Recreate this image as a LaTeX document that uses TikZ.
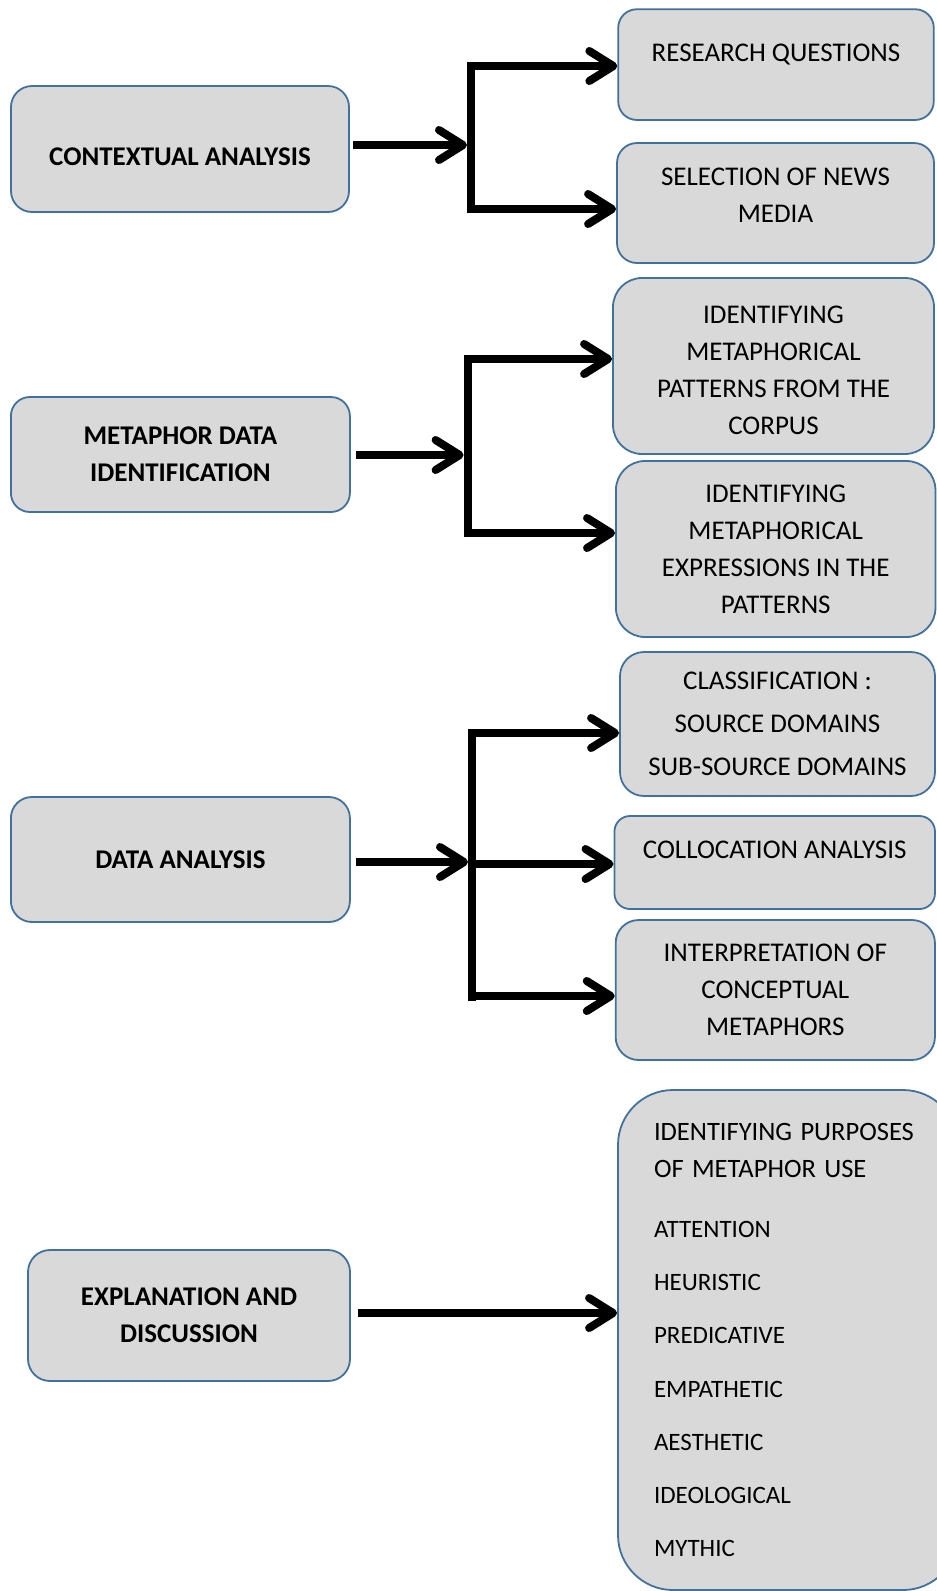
\documentclass[tikz,border=0pt]{standalone}
\usepackage{fontspec}
\setmainfont{Carlito}
\usetikzlibrary{arrows.meta,calc}
\definecolor{boxfill}{HTML}{D9D9D9}
\definecolor{boxline}{HTML}{41719C}
\tikzset{
  box/.style={draw=boxline, fill=boxfill, line width=1.8pt, align=center, inner sep=0pt,
    font=\fontsize{27}{37}\selectfont},
  leftbox/.style={box, font=\bfseries\fontsize{27}{37}\selectfont},
  conn/.style={line width=8pt, -{Straight Barb[length=24pt,width=30pt,round]}},
  barline/.style={line width=8pt},
}
\begin{document}
\begin{tikzpicture}[x=1pt,y=-1pt]
\useasboundingbox (0,0) rectangle (937,1591);
\clip (0,0) rectangle (937,1591);

% left boxes
\node[leftbox, minimum width=338pt, minimum height=126pt, rounded corners=21pt,
  text height=37.2pt, text depth=4pt] (ctx) at (180,149) {CONTEXTUAL ANALYSIS};
\node[leftbox, minimum width=339pt, minimum height=115pt, rounded corners=19pt]
  (meta) at (180.4,454.5) {METAPHOR DATA\\IDENTIFICATION};
\node[leftbox, minimum width=339pt, minimum height=125pt, rounded corners=21pt]
  (data) at (180.4,859.5) {DATA ANALYSIS};
\node[leftbox, minimum width=322pt, minimum height=131pt, rounded corners=22pt]
  (expl) at (189,1315.5) {EXPLANATION AND\\DISCUSSION};

% right boxes
\node[box, minimum width=315.5pt, minimum height=110.7pt, rounded corners=18.5pt,
  text height=10pt, text depth=17.2pt] (rq) at (776,64.6) {RESEARCH QUESTIONS};
\node[box, minimum width=317pt, minimum height=120pt, rounded corners=20pt]
  (sel) at (775.5,203) {SELECTION OF NEWS\\MEDIA\\[-21pt]\mbox{}};
\node[box, minimum width=321pt, minimum height=176pt, rounded corners=29pt]
  (pat) at (773.5,366) {\mbox{}\\[-10pt]IDENTIFYING\\METAPHORICAL\\PATTERNS FROM THE\\CORPUS};
\node[box, minimum width=319.5pt, minimum height=176pt, rounded corners=29pt]
  (exq) at (775.7,549) {IDENTIFYING\\METAPHORICAL\\EXPRESSIONS IN THE\\PATTERNS};
\node[box, minimum width=315pt, minimum height=144pt, rounded corners=24pt]
  (cls) at (777.5,724) {CLASSIFICATION :\\[6pt]SOURCE DOMAINS\\[6pt]SUB-SOURCE DOMAINS};
\node[box, minimum width=320.5pt, minimum height=93pt, rounded corners=15.5pt,
  text height=10pt, text depth=18.2pt] (col) at (774.7,862.5) {COLLOCATION ANALYSIS};
\node[box, minimum width=319.3pt, minimum height=140pt, rounded corners=23pt]
  (int) at (775.3,990) {INTERPRETATION OF\\CONCEPTUAL\\METAPHORS};
\node[box, minimum width=340pt, minimum height=500pt, rounded corners=55pt,
  text width=268pt, align=left, font=\fontsize{25}{37}\selectfont]
  (pur) at (788,1340) {{\fontsize{26.5}{37}\selectfont IDENTIFYING PURPOSES}\\
  {\fontsize{26.5}{37}\selectfont OF METAPHOR USE}\\[23pt]
  ATTENTION\\[16.3pt]
  HEURISTIC\\[16.3pt]
  PREDICATIVE\\[16.3pt]
  EMPATHETIC\\[16.3pt]
  AESTHETIC\\[16.3pt]
  IDEOLOGICAL\\[16.3pt]
  MYTHIC};

% group 1
\coordinate (t1) at (471,62);
\coordinate (u1) at (471,213);
\coordinate (j1) at (467,145);
\coordinate (s1) at (353,145);
\coordinate (r1) at (467,66);
\coordinate (r2) at (467,209);
\draw[barline] (t1) -- (u1);
\draw[conn] (s1) -- (j1);
\draw[conn] (r1) -- (r1 -| rq.west);
\draw[conn] (r2) -- (r2 -| sel.west);

% group 2
\coordinate (t2) at (467.6,355);
\coordinate (u2) at (467.6,537);
\coordinate (j2) at (463.6,455);
\coordinate (s2) at (355.6,455);
\coordinate (r3) at (463.6,359);
\coordinate (r4) at (463.6,533);
\draw[barline] (t2) -- (u2);
\draw[conn] (s2) -- (j2);
\draw[conn] (r3) -- (r3 -| pat.west);
\draw[conn] (r4) -- (r4 -| exq.west);

% group 3
\coordinate (t3) at (472,729);
\coordinate (u3) at (472,1001);
\coordinate (j3) at (468,862);
\coordinate (s3) at (355.6,862);
\coordinate (r5) at (468,733);
\coordinate (r6) at (468,864);
\coordinate (r7) at (468,996);
\draw[barline] (t3) -- (u3);
\draw[conn] (s3) -- (j3);
\draw[conn] (r5) -- (r5 -| cls.west);
\draw[conn] (r6) -- (r6 -| col.west);
\draw[conn] (r7) -- (r7 -| int.west);

% group 4
\coordinate (s4) at (358,1313);
\draw[conn] (s4) -- (s4 -| pur.west);
\end{tikzpicture}
\end{document}
